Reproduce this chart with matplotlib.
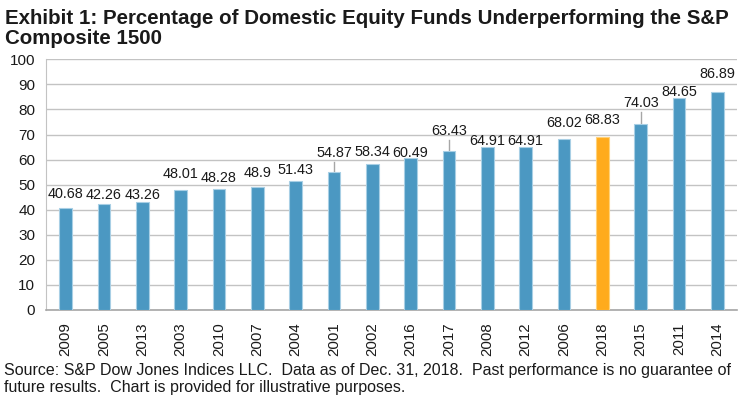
import matplotlib
matplotlib.use("Agg")
import matplotlib.pyplot as plt
import numpy as np

years = ["2009", "2005", "2013", "2003", "2010", "2007", "2004", "2001", "2002",
         "2016", "2017", "2008", "2012", "2006", "2018", "2015", "2011", "2014"]
values = [40.68, 42.26, 43.26, 48.01, 48.28, 48.9, 51.43, 54.87, 58.34,
          60.49, 63.43, 64.91, 64.91, 68.02, 68.83, 74.03, 84.65, 86.89]
value_labels = ["40.68", "42.26", "43.26", "48.01", "48.28", "48.9", "51.43", "54.87", "58.34",
                "60.49", "63.43", "64.91", "64.91", "68.02", "68.83", "74.03", "84.65", "86.89"]
highlight = "2018"

# label placement (style): offset of label centre above bar top, in data units
label_offsets = [5.4, 3.8, 2.8, 6.4, 4.5, 5.9, 4.5, 7.8, 4.8,
                 2.2, 8.0, 2.3, 2.3, 6.5, 7.0, 8.4, 2.4, 7.2]
leader = {"2001", "2017", "2015"}

plt.rcParams['font.family'] = ['Liberation Sans', 'DejaVu Sans']
TXT = '#1a1a1a'
BLUE = '#4b98c2'
ORANGE = '#ffab1d'

fig = plt.figure(figsize=(7.39, 4.05), dpi=100)
ax = fig.add_axes([0.0627, 0.2346, 0.934, 0.619])

x = np.arange(len(years))
colors = [ORANGE if y == highlight else BLUE for y in years]
edges = ['#ffd27a' if y == highlight else '#a8cfe5' for y in years]
ax.bar(x, values, width=0.33, color=colors, edgecolor=edges, linewidth=0.8, zorder=3)

for xi, v, lab, off, yr in zip(x, values, value_labels, label_offsets, years):
    ax.text(xi, v + off, lab, ha='center', va='center', fontsize=10.4, color=TXT, zorder=4)
    if yr in leader:
        ax.plot([xi, xi], [v, v + off - 3.6], color='#a6a6a6', lw=1.0, zorder=2)

ax.set_xlim(-0.5, len(years) - 0.5)
ax.set_ylim(0, 100)
ax.set_yticks(np.arange(0, 101, 10))
ax.set_xticks(x)
ax.set_xticklabels(years, rotation=90, fontsize=10.8, color=TXT)
ax.tick_params(axis='y', length=0, pad=8, labelsize=11, labelcolor=TXT)
ax.tick_params(axis='x', length=0, pad=9)
ax.grid(axis='y', color='#c3c3c3', lw=1.0, zorder=0)
ax.set_axisbelow(True)
for s in ['top', 'right']:
    ax.spines[s].set_visible(False)
ax.spines['left'].set_color('#c3c3c3')
ax.spines['bottom'].set_color('#a6a6a6')
ax.spines['bottom'].set_linewidth(1.2)

fig.text(0.007, 0.978, "Exhibit 1: Percentage of Domestic Equity Funds Underperforming the S&P\nComposite 1500",
         ha='left', va='top', fontsize=14.8, fontweight='bold', color=TXT, linespacing=1.1)
fig.text(0.006, 0.025, "Source: S&P Dow Jones Indices LLC.  Data as of Dec. 31, 2018.  Past performance is no guarantee of\nfuture results.  Chart is provided for illustrative purposes.",
         ha='left', va='bottom', fontsize=11.5, color=TXT, linespacing=1.15)

fig.savefig("out.png", dpi=100)
